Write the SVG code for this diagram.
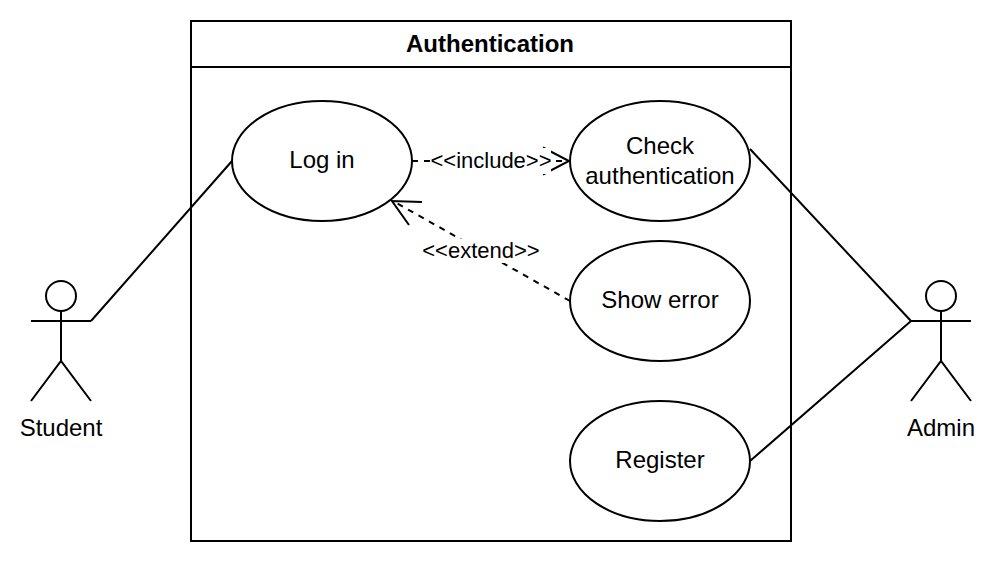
<svg xmlns="http://www.w3.org/2000/svg" width="996" height="562" viewBox="0 0 996 562">
<style>
.s{fill:none;stroke:#000;stroke-width:2}
.e{fill:#fff;stroke:#000;stroke-width:2}
text{font-family:"Liberation Sans",Arial,sans-serif;fill:#000;text-anchor:middle}
.t{font-size:24px}
.l{font-size:22px}
.d{stroke-dasharray:6 6}
</style>
<rect width="996" height="562" fill="#fff"/>
<g id="system"><rect class="e" x="191" y="21" width="600" height="520"/><path class="s" d="M191 67H791"/><text x="490" y="52" class="t" font-weight="bold">Authentication</text></g>
<g id="login"><ellipse class="e" cx="322" cy="161" rx="90" ry="60"/><text x="322" y="168" class="t">Log in</text></g>
<g id="check"><ellipse class="e" cx="660" cy="161" rx="90" ry="60"/><text x="660" y="154" class="t">Check</text><text x="660" y="184" class="t">authentication</text></g>
<g id="error"><ellipse class="e" cx="660" cy="301" rx="90" ry="60"/><text x="660" y="308" class="t">Show error</text></g>
<g id="register"><ellipse class="e" cx="660" cy="461" rx="90" ry="60"/><text x="660" y="468" class="t">Register</text></g>
<g id="student"><circle class="e" cx="61" cy="296" r="15"/><path class="s" d="M61 311V361M31 321H91M31 401L61 361L91 401"/><text x="61" y="436" class="t">Student</text></g>
<g id="admin"><circle class="e" cx="941" cy="296" r="15"/><path class="s" d="M941 311V361M911 321H971M911 401L941 361L971 401"/><text x="941" y="436" class="t">Admin</text></g>
<g id="connectors">
<path class="s" d="M91 321L232 161M750 149L911 321M750 461L911 321"/>
<path class="s d" d="M412 161H568"/><path class="s" d="M543 147.500L569 161L543 174.500"/>
<path class="s d" d="M570 301L393 201"/><path class="s" d="M422 202L392 201L409 225"/>
<rect x="431" y="148" width="120" height="26" fill="#fff"/><text x="491" y="168" class="l">&lt;&lt;include&gt;&gt;</text>
<rect x="423" y="239" width="116" height="24" fill="#fff"/><text x="481" y="258" class="l">&lt;&lt;extend&gt;&gt;</text>
</g>
</svg>
